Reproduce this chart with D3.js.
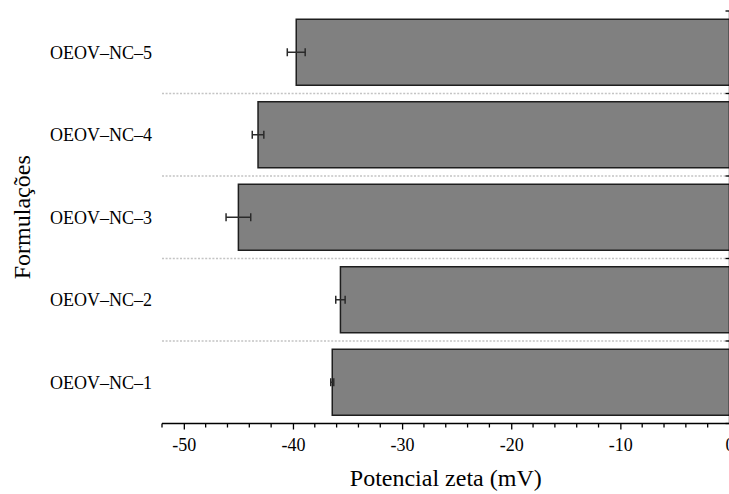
<!DOCTYPE html>
<html>
<head>
<meta charset="utf-8">
<script src="https://cdn.jsdelivr.net/npm/d3@7"></script>
<style>
  html, body { margin: 0; padding: 0; background: #fff; }
  svg { display: block; }
  text { font-family: "Liberation Serif", "Times New Roman", serif; fill: #000; }
</style>
</head>
<body>
<svg id="chart" width="729" height="494"></svg>
<script>
// Zeta potential of each formulation (mV), mean and standard deviation
const categories = ["OEOV–NC–1", "OEOV–NC–2", "OEOV–NC–3", "OEOV–NC–4", "OEOV–NC–5"];
const zetaMean = [-36.4, -35.65, -45.0, -43.2, -39.7];
const zetaSD = [0.14, 0.43, 1.13, 0.53, 0.82];
const majorTicks = [-50, -40, -30, -20, -10, 0];
const xTitle = "Potencial zeta (mV)";
const yTitle = "Formulações";

const data = categories.map((c, i) => ({ name: c, mean: zetaMean[i], sd: zetaSD[i] }));

const svg = d3.select("#chart");
const plotLeft = 162, plotRight = 729.5, plotTop = 11, plotBottom = 423.5;

const x = d3.scaleLinear().domain([-52, 0]).range([plotLeft, plotRight]);
const y = d3.scaleBand()
  .domain(categories.slice().reverse())
  .range([plotTop, plotBottom])
  .paddingInner(0.2)
  .paddingOuter(0.1);

// dotted separators between categories
const seps = categories.slice().reverse().slice(0, -1);
svg.append("g").selectAll("line").data(seps).join("line")
  .attr("x1", plotLeft).attr("x2", plotRight)
  .attr("y1", d => y(d) + y.bandwidth() + y.step() * y.paddingInner() / 2)
  .attr("y2", d => y(d) + y.bandwidth() + y.step() * y.paddingInner() / 2)
  .attr("stroke", "#c4c4c4").attr("stroke-width", 1.3)
  .attr("stroke-dasharray", "2,1.6");

// bars
svg.append("g").selectAll("rect").data(data).join("rect")
  .attr("x", d => x(d.mean))
  .attr("width", d => x(0) - x(d.mean))
  .attr("y", d => y(d.name))
  .attr("height", y.bandwidth())
  .attr("fill", "#808080")
  .attr("stroke", "#1e1e1e")
  .attr("stroke-width", 1.5);

// error bars
const eb = svg.append("g").attr("stroke", "#2a2a2a").attr("stroke-width", 1.5);
const capH = 4;
data.forEach(d => {
  const cy = y(d.name) + y.bandwidth() / 2;
  eb.append("line").attr("x1", x(d.mean - d.sd)).attr("x2", x(d.mean + d.sd)).attr("y1", cy).attr("y2", cy);
  [d.mean - d.sd, d.mean + d.sd].forEach(v => {
    eb.append("line").attr("x1", x(v)).attr("x2", x(v)).attr("y1", cy - capH).attr("y2", cy + capH);
  });
});

// right-hand axis at zero with ticks on category boundaries
const boundaries = d3.range(categories.length + 1).map(i => plotTop + i * y.step());
const ra = svg.append("g").attr("stroke", "#000").attr("stroke-width", 1.3);
ra.append("line").attr("x1", x(0)).attr("x2", x(0)).attr("y1", plotTop).attr("y2", plotBottom);
ra.selectAll(".bt").data(boundaries).join("line")
  .attr("x1", x(0) - 4).attr("x2", x(0)).attr("y1", d => d).attr("y2", d => d);

// bottom axis: minor ticks every 2 mV, major every 10 mV
const minorTicks = d3.range(-52, 0.1, 2).filter(v => !majorTicks.includes(v));
const gx = svg.append("g").attr("transform", `translate(0,${plotBottom})`);
gx.append("line").attr("x1", plotLeft).attr("x2", plotRight).attr("y1", 0).attr("y2", 0)
  .attr("stroke", "#000").attr("stroke-width", 1.5);
gx.selectAll(".mt").data(minorTicks).join("line")
  .attr("x1", d => x(d)).attr("x2", d => x(d)).attr("y1", 0).attr("y2", 4)
  .attr("stroke", "#000").attr("stroke-width", 1.3);
const axis = d3.axisBottom(x).tickValues(majorTicks).tickSize(6).tickPadding(9)
  .tickFormat(d => String(d));
const ga = gx.append("g").call(axis);
ga.select(".domain").remove();
ga.selectAll(".tick line").attr("stroke", "#000").attr("stroke-width", 1.3);
ga.selectAll(".tick text")
  .style("font-family", "'Liberation Serif', 'Times New Roman', serif")
  .style("font-size", "18px").attr("fill", "#000");

// category labels
svg.append("g").selectAll("text").data(categories).join("text")
  .attr("x", 152)
  .attr("y", d => y(d) + y.bandwidth() / 2)
  .attr("dy", "0.35em")
  .attr("text-anchor", "end")
  .style("font-size", "18px")
  .text(d => d);

// axis titles
svg.append("text")
  .attr("x", (plotLeft + plotRight) / 2).attr("y", 486)
  .attr("text-anchor", "middle")
  .style("font-size", "24px")
  .text(xTitle);

svg.append("text")
  .attr("transform", `translate(30,${(plotTop + plotBottom) / 2}) rotate(-90)`)
  .attr("text-anchor", "middle")
  .style("font-size", "24px")
  .text(yTitle);
</script>
</body>
</html>
